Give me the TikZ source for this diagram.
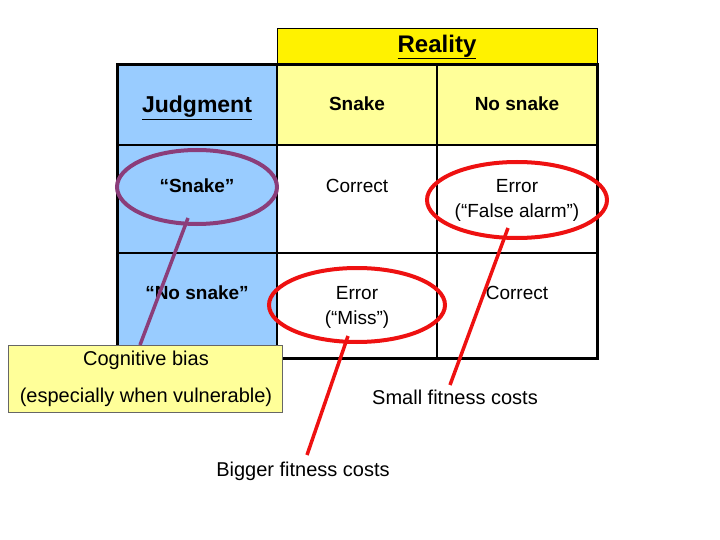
\documentclass[tikz,border=0pt]{standalone}
\usepackage{fontspec}
\setmainfont{Liberation Sans}
\begin{document}
\begin{tikzpicture}[x=1pt,y=-1pt,
  lbl/.style={font=\fontsize{19}{21}\selectfont, align=center, inner sep=0},
  bl/.style={lbl,font=\fontsize{19}{21}\selectfont\bfseries},
  big/.style={lbl,font=\fontsize{20}{22}\selectfont},
  ell/.style={line width=4pt},
  ln/.style={line width=3.5pt}]
\useasboundingbox (0,0) rectangle (720,540);
\definecolor{lblue}{HTML}{99CCFF}
\definecolor{lyel}{HTML}{FFFF99}
\definecolor{myred}{HTML}{EE1111}
\definecolor{mypur}{HTML}{8B3D7A}
\fill[lblue] (117,65) rectangle (277,358);
\fill[lyel] (277,65) rectangle (597,145);
\filldraw[fill=yellow,draw=black,line width=0.8pt] (277,28) rectangle (597,65);
\draw[line width=1.6pt] (117,145) -- (597,145) (117,253) -- (597,253)
  (277,65) -- (277,358) (437,65) -- (437,358);
\draw[line width=3pt] (117,65) rectangle (597,358);
\node[bl,font=\fontsize{24}{26}\selectfont\bfseries] (real) at (437,47) {\underline{Reality}};
\node[lbl,font=\fontsize{23}{26}\selectfont\bfseries] (judg) at (197,108) {\underline{Judgment}};
\node[bl] (snk) at (357,104) {Snake};
\node[bl] (nsnk) at (517,104) {No snake};
\node[bl] (qs) at (197,186) {“Snake”};
\node[bl] (qns) at (197,293) {“No snake”};
\node[lbl] (c1) at (357,186) {Correct};
\node[lbl] (e1) at (517,186) {Error};
\node[lbl] (e1b) at (517,213) {(“False alarm”)};
\node[lbl] (e2) at (357,293) {Error};
\node[lbl] (e2b) at (357,320) {(“Miss”)};
\node[lbl] (c2) at (517,293) {Correct};
\draw[ell,mypur] (197,187) ellipse [x radius=80,y radius=37];
\draw[ell,myred] (517,200) ellipse [x radius=90,y radius=38];
\draw[ell,myred] (357,305) ellipse [x radius=88,y radius=37];
\filldraw[fill=lyel,draw=black!60,line width=0.8pt] (8,345) rectangle (282,412);
\node[big] (cb) at (146,360) {Cognitive bias};
\node[big] (cb2) at (146,397) {(especially when vulnerable)};
\node[big] (sfc) at (455,397) {Small fitness costs};
\node[big] (bfc) at (303,471) {Bigger fitness costs};
\coordinate (p1) at (188,218); \coordinate (p1s) at (140,345);
\coordinate (p2) at (508,228); \coordinate (p2s) at (450,385);
\coordinate (p3) at (348,336); \coordinate (p3s) at (307,455);
\draw[ln,mypur] (p1s) -- (p1);
\draw[ln,myred] (p2s) -- (p2);
\draw[ln,myred] (p3s) -- (p3);
\end{tikzpicture}
\end{document}
